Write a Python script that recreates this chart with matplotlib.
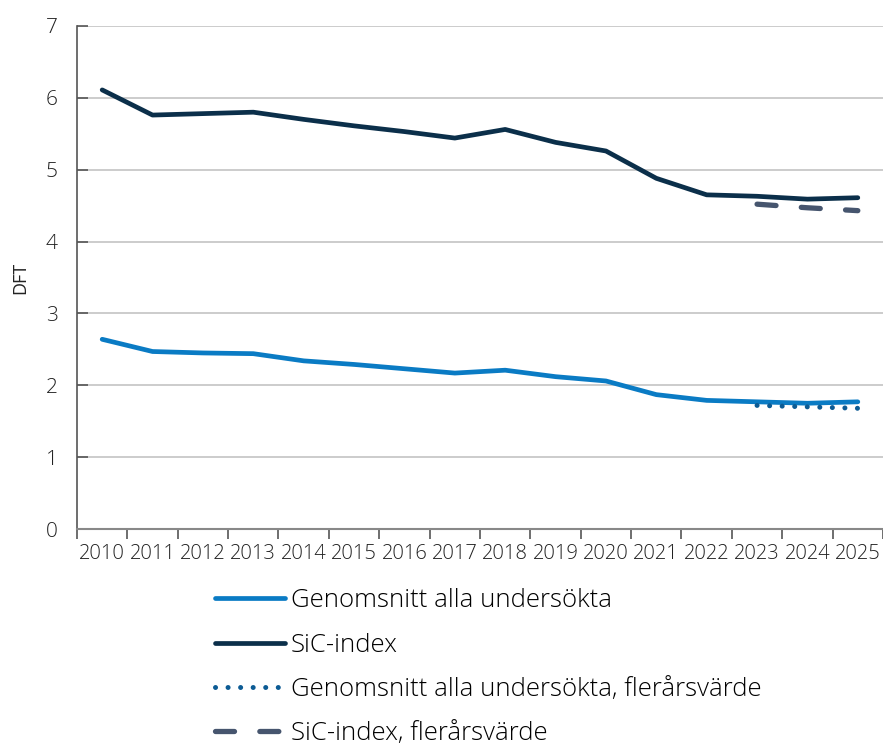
import matplotlib.pyplot as plt
import numpy as np

# Data
years = ['2010', '2011', '2012', '2013', '2014', '2015', '2016', '2017',
         '2018', '2019', '2020', '2021', '2022', '2023', '2024', '2025']
genomsnitt = [2.64, 2.47, 2.45, 2.44, 2.34, 2.29, 2.23, 2.17,
              2.21, 2.12, 2.06, 1.87, 1.79, 1.77, 1.75, 1.77]
sic = [6.11, 5.76, 5.78, 5.80, 5.70, 5.61, 5.53, 5.44,
       5.56, 5.38, 5.26, 4.88, 4.65, 4.63, 4.59, 4.61]
flerar_years = ['2023', '2024', '2025']
genomsnitt_flerar = [1.72, 1.70, 1.68]
sic_flerar = [4.52, 4.47, 4.43]

plt.rcParams['font.family'] = ['Open Sans', 'DejaVu Sans']
plt.rcParams['font.weight'] = 'light'

fig = plt.figure(figsize=(8.83, 7.52), dpi=100)
ax = fig.add_axes([0.0872, 0.2965, 0.9128, 0.669])

x = np.arange(len(years))
xf = np.array([years.index(y) for y in flerar_years])

ax.plot(x, genomsnitt, color='#0a7bc4', lw=3.4, solid_capstyle='round',
        label='Genomsnitt alla undersökta', zorder=3)
ax.plot(x, sic, color='#0b2f4a', lw=3.4, solid_capstyle='round',
        label='SiC-index', zorder=3)
ax.plot(xf, genomsnitt_flerar, color='#0c5b94', lw=3.6, linestyle=(0, (0.01, 2.5)),
        dash_capstyle='round', label='Genomsnitt alla undersökta, flerårsvärde', zorder=4)
ax.plot(xf, sic_flerar, color='#46556e', lw=3.8, linestyle=(0, (3.6, 4.8)),
        dash_capstyle='round', label='SiC-index, flerårsvärde', zorder=4)

ax.set_xlim(-0.5, 15.5)
ax.set_ylim(0, 7)
ax.set_yticks(range(0, 8))
ax.set_yticklabels([str(v) for v in range(0, 8)], fontsize=15, color='#222222')
ax.set_xticks(x)
ax.set_xticklabels(years, fontsize=14.5, color='#222222')
ax.set_xticks(np.arange(-0.5, 15.6, 1), minor=True)
ax.tick_params(axis='x', which='major', length=0, pad=11)
ax.tick_params(axis='x', which='minor', length=7, width=1.2, color='#555555', direction='out')
ax.tick_params(axis='y', length=8, width=1.2, color='#555555', direction='in', pad=14)

for v in range(1, 8):
    ax.axhline(v, color='#c8c8c8', lw=1.3, zorder=1)

for s in ['top', 'right']:
    ax.spines[s].set_visible(False)
ax.spines['left'].set_color('#555555')
ax.spines['left'].set_linewidth(1.2)
ax.spines['bottom'].set_color('#888888')
ax.spines['bottom'].set_linewidth(1.5)

ax.set_ylabel('DFT', fontsize=13, color='#222222', labelpad=12)

fig.legend(loc='upper left', bbox_to_anchor=(0.2435, 0.2175), frameon=False,
           fontsize=18.5, handlelength=2.72, handletextpad=0.22, labelspacing=0.75,
           borderaxespad=0, borderpad=0)

plt.savefig('out.png', dpi=100)
